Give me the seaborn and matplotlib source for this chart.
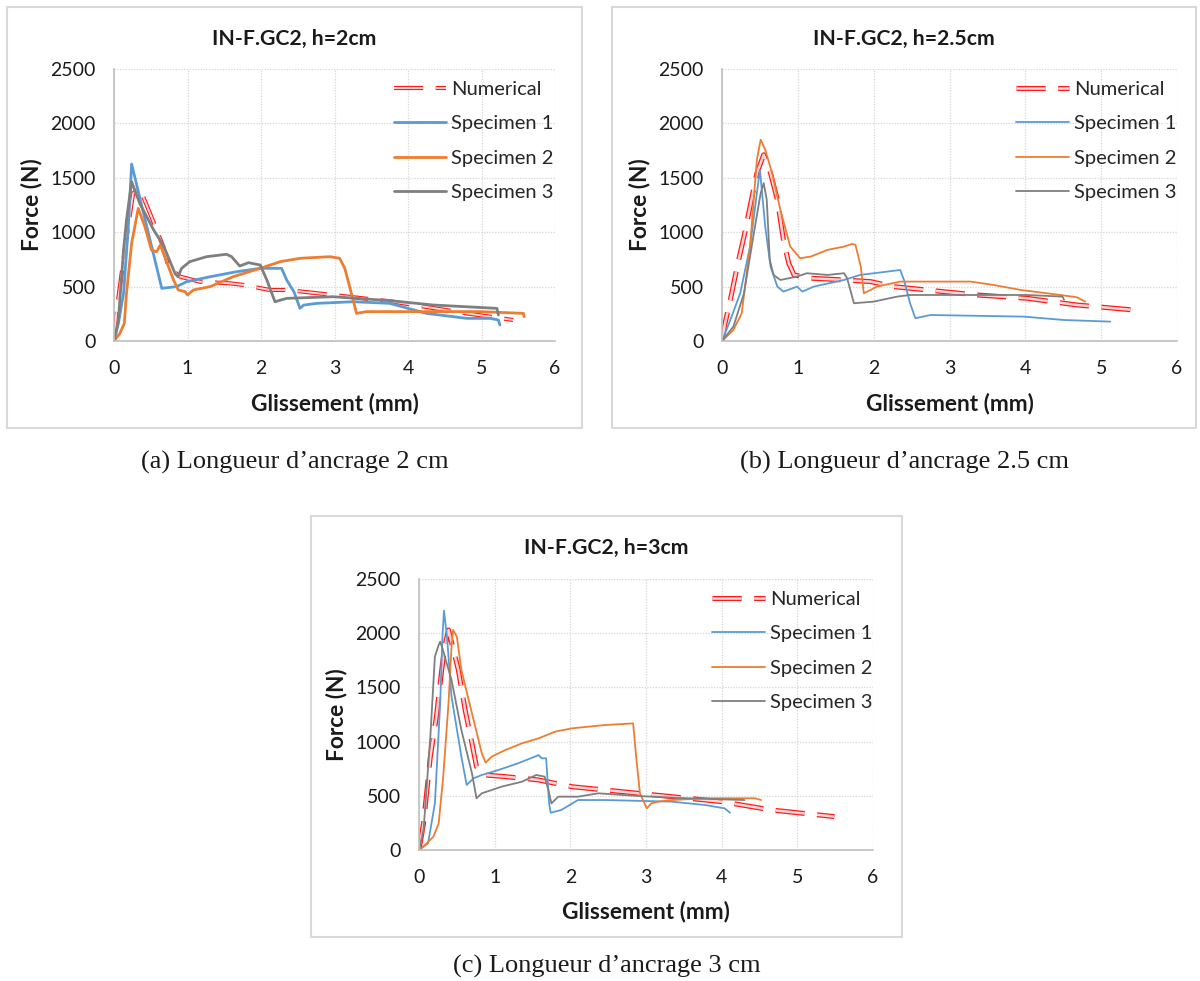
import numpy as np
import pandas as pd
import matplotlib
matplotlib.use("Agg")
import matplotlib.pyplot as plt
import matplotlib.patheffects as pe
from matplotlib.patches import Rectangle
import seaborn as sns

# ---------------- data ----------------
series_names = ["Numerical", "Specimen 1", "Specimen 2", "Specimen 3"]
titles = ["IN-F.GC2, h=2cm", "IN-F.GC2, h=2.5cm", "IN-F.GC2, h=3cm"]
captions = ["(a) Longueur d\u2019ancrage 2 cm", "(b) Longueur d\u2019ancrage 2.5 cm",
            "(c) Longueur d\u2019ancrage 3 cm"]
x_ticks = [0, 1, 2, 3, 4, 5, 6]
y_ticks = [0, 500, 1000, 1500, 2000, 2500]

# panel (a) h=2cm
a_num_x = [0, 0.03, 0.10, 0.18, 0.26, 0.35, 0.49, 0.67, 0.74, 0.90, 1.17, 1.58, 1.76, 2.12, 2.35, 2.98, 3.80, 4.80, 5.43]
a_num_y = [0, 250, 600, 1000, 1357, 1403, 1173, 867, 683, 591, 545, 530, 515, 469, 469, 423, 361, 254, 193]
a_s1_x = [0, 0.06, 0.13, 0.195, 0.24, 0.40, 0.65, 0.85, 0.99, 1.31, 1.67, 1.99, 2.28, 2.35, 2.45, 2.53, 2.58, 2.76, 3.26, 3.75, 4.25, 4.80, 5.12, 5.23, 5.25]
a_s1_y = [0, 162, 438, 1050, 1627, 1180, 484, 500, 545, 591, 637, 668, 668, 560, 450, 300, 330, 346, 361, 346, 254, 208, 208, 193, 147]
a_s2_x = [0, 0.08, 0.14, 0.17, 0.24, 0.33, 0.42, 0.51, 0.58, 0.63, 0.69, 0.81, 0.875, 0.97, 1.0, 1.08, 1.31, 1.62, 1.99, 2.26, 2.53, 2.94, 3.07, 3.14, 3.23, 3.30, 3.44, 4.34, 4.98, 5.57, 5.58]
a_s2_y = [0, 70, 162, 438, 898, 1219, 1050, 836, 820, 882, 775, 560, 469, 453, 423, 469, 500, 591, 668, 729, 760, 775, 760, 668, 438, 254, 270, 270, 270, 254, 224]
a_s3_x = [0, 0.06, 0.13, 0.17, 0.24, 0.35, 0.54, 0.67, 0.83, 0.87, 0.92, 1.03, 1.26, 1.53, 1.60, 1.71, 1.83, 1.99, 2.08, 2.19, 2.35, 2.98, 3.75, 4.34, 5.21, 5.23]
a_s3_y = [0, 193, 836, 1112, 1464, 1265, 1020, 882, 622, 591, 668, 729, 775, 797, 775, 689, 720, 698, 560, 361, 392, 407, 371, 331, 300, 239]

# panel (b) h=2.5cm
b_num_x = [0, 0.04, 0.11, 0.20, 0.29, 0.37, 0.46, 0.55, 0.64, 0.73, 0.81, 0.88, 0.95, 1.17, 1.61, 1.96, 2.26, 2.70, 3.36, 4.02, 4.68, 5.43]
b_num_y = [0, 162, 377, 684, 960, 1236, 1543, 1712, 1543, 1298, 930, 715, 607, 577, 561, 546, 500, 469, 423, 393, 331, 285]
b_s1_x = [0, 0.11, 0.24, 0.37, 0.46, 0.50, 0.57, 0.64, 0.73, 0.81, 0.99, 1.06, 1.21, 1.61, 1.82, 2.18, 2.35, 2.40, 2.48, 2.55, 2.75, 3.98, 4.51, 5.12]
b_s1_y = [0, 193, 439, 868, 1359, 1574, 1052, 684, 500, 454, 500, 454, 500, 561, 607, 638, 653, 561, 347, 209, 239, 224, 193, 178]
b_s2_x = [0, 0.15, 0.26, 0.37, 0.46, 0.51, 0.57, 0.66, 0.77, 0.90, 1.03, 1.17, 1.39, 1.61, 1.72, 1.76, 1.83, 1.87, 1.96, 2.04, 2.35, 3.28, 3.58, 3.94, 4.46, 4.68, 4.79]
b_s2_y = [0, 101, 255, 868, 1666, 1850, 1758, 1543, 1205, 868, 761, 776, 837, 868, 893, 883, 684, 439, 469, 500, 546, 546, 515, 469, 423, 402, 362]
b_s3_x = [0, 0.15, 0.29, 0.42, 0.51, 0.55, 0.59, 0.63, 0.68, 0.77, 0.99, 1.12, 1.39, 1.61, 1.65, 1.74, 2.00, 2.31, 2.48, 3.19, 4.02, 4.49, 4.51]
b_s3_y = [0, 132, 439, 991, 1359, 1451, 1298, 745, 607, 561, 592, 623, 607, 623, 577, 347, 362, 408, 423, 423, 423, 408, 380]

# panel (c) h=3cm
c_num_x = [0, 0.06, 0.15, 0.23, 0.30, 0.34, 0.39, 0.52, 0.61, 0.70, 0.76, 0.87, 1.14, 1.58, 2.02, 2.68, 3.34, 4.00, 4.66, 5.49]
c_num_y = [0, 246, 861, 1230, 1660, 1876, 2030, 1660, 1291, 984, 769, 692, 677, 646, 584, 538, 492, 446, 369, 308]
c_s1_x = [0, 0.12, 0.21, 0.28, 0.31, 0.33, 0.37, 0.43, 0.56, 0.63, 0.72, 0.83, 1.05, 1.31, 1.53, 1.58, 1.62, 1.68, 1.72, 1.74, 1.88, 2.10, 2.46, 3.34, 3.78, 4.04, 4.11]
c_s1_y = [0, 62, 430, 1353, 1968, 2208, 1968, 1414, 861, 600, 661, 692, 738, 800, 861, 876, 846, 846, 430, 344, 369, 461, 461, 446, 415, 384, 344]
c_s2_x = [0, 0.08, 0.19, 0.26, 0.32, 0.39, 0.43, 0.45, 0.50, 0.56, 0.70, 0.83, 0.88, 0.96, 1.14, 1.36, 1.58, 1.80, 2.02, 2.24, 2.46, 2.83, 2.87, 2.92, 3.01, 3.07, 3.16, 3.34, 3.78, 4.44, 4.52]
c_s2_y = [0, 46, 123, 246, 677, 1353, 1876, 2030, 1968, 1660, 1261, 892, 806, 861, 922, 984, 1030, 1092, 1122, 1138, 1153, 1168, 861, 523, 384, 430, 446, 461, 477, 477, 461]
c_s3_x = [0, 0.06, 0.15, 0.21, 0.26, 0.28, 0.31, 0.43, 0.56, 0.70, 0.76, 0.83, 1.09, 1.36, 1.55, 1.66, 1.71, 1.75, 1.84, 2.10, 2.37, 2.90, 3.56, 4.30]
c_s3_y = [0, 185, 1046, 1784, 1891, 1922, 1860, 1568, 1107, 707, 477, 523, 584, 630, 692, 677, 553, 430, 492, 492, 523, 498, 477, 461]

panels_data = [
    [(a_num_x, a_num_y), (a_s1_x, a_s1_y), (a_s2_x, a_s2_y), (a_s3_x, a_s3_y)],
    [(b_num_x, b_num_y), (b_s1_x, b_s1_y), (b_s2_x, b_s2_y), (b_s3_x, b_s3_y)],
    [(c_num_x, c_num_y), (c_s1_x, c_s1_y), (c_s2_x, c_s2_y), (c_s3_x, c_s3_y)],
]

# ---------------- style ----------------
sns.set_theme(style="white")
plt.rcParams["font.family"] = ["Lato", "DejaVu Sans"]
plt.rcParams["lines.scale_dashes"] = False

W, H = 1200, 981
fig = plt.figure(figsize=(W / 100, H / 100), dpi=100)
fig.patch.set_facecolor("white")

def fx(px):
    return px / W

def fy(py):
    return 1 - py / H

# pixel layouts: frame (l, t, r, b), axes (l, t, r, b)
frames = [(7, 7, 582, 428), (612, 7, 1196, 428), (311, 516, 902, 937)]
axes_px = [(114, 69, 555, 341), (722, 69, 1177, 341), (419, 579, 873, 850)]
caption_pos = [(295, 462), (905, 462), (607, 966)]
spec_colors = ["#5B9BD5", "#ED7D31", "#7F7F7F"]
spec_lw = [2.0, 1.3, 1.3]
num_lw = [(3.0, 1.4), (3.6, 1.8), (3.6, 1.8)]

tick_fs = 14
leg_fs = 14.5
for i in range(3):
    fl, ft, fr, fb = frames[i]
    fig.patches.append(Rectangle((fx(fl), fy(fb)), fx(fr - fl), (fb - ft) / H,
                                 transform=fig.transFigure, fill=False,
                                 edgecolor="#d9d9d9", linewidth=1.5, zorder=0))
    al, at, ar, ab = axes_px[i]
    ax = fig.add_axes([fx(al), fy(ab), fx(ar - al), (ab - at) / H])
    ax.set_facecolor("white")

    for j, (xs, ys) in enumerate(panels_data[i]):
        df = pd.DataFrame({"x": xs, "y": ys})
        if j == 0:
            outer, inner = num_lw[i]
            sns.lineplot(data=df, x="x", y="y", sort=False, estimator=None, ax=ax,
                         color="#ffd6d6", linewidth=inner, label=series_names[j])
            ln = ax.get_lines()[-1]
            ln.set_dashes((21, 9))
            ln.set_dash_capstyle("butt")
            ln.set_path_effects([pe.Stroke(linewidth=outer, foreground="#ff1a1a"), pe.Normal()])
        else:
            sns.lineplot(data=df, x="x", y="y", sort=False, estimator=None, ax=ax,
                         color=spec_colors[j - 1], linewidth=spec_lw[i], label=series_names[j])

    ax.set_xlim(0, 6)
    ax.set_ylim(0, 2500)
    ax.set_xticks(x_ticks)
    ax.set_yticks(y_ticks)
    ax.set_xticklabels([str(t) for t in x_ticks])
    ax.set_yticklabels([str(t) for t in y_ticks])
    ax.tick_params(axis="both", length=0, labelsize=tick_fs, colors="#1a1a1a")
    ax.tick_params(axis="x", pad=14)
    ax.tick_params(axis="y", pad=13)
    ax.grid(True, color="#d9d9d9", linestyle=(0, (1, 1)), linewidth=0.9)
    ax.set_axisbelow(True)
    for s in ["top", "right"]:
        ax.spines[s].set_visible(False)
    for s in ["left", "bottom"]:
        ax.spines[s].set_color("#bfbfbf")
        ax.spines[s].set_linewidth(1.2)
    ax.set_xlabel("")
    ax.set_ylabel("")

    leg = ax.legend(loc="upper right", bbox_to_anchor=(1.025, 1.0), frameon=False,
                    fontsize=leg_fs, handlelength=2.6, handletextpad=0.25,
                    labelspacing=0.85, borderaxespad=0.2)

    cx = (fl + fr) / 2
    fig.text(fx(cx), fy(ft + 32), titles[i], ha="center", va="center",
             fontsize=15.3, fontweight="bold", color="#1a1a1a")
    fig.text(fx((al + ar) / 2), fy(ab + 62), "Glissement (mm)", ha="center", va="center",
             fontsize=16.3, fontweight="bold", color="#1a1a1a")
    fig.text(fx(al - 83), fy((at + ab) / 2), "Force (N)", ha="center", va="center",
             rotation=90, fontsize=16.3, fontweight="bold", color="#1a1a1a")
    px_, py_ = caption_pos[i]
    fig.text(fx(px_), fy(py_), captions[i], ha="center", va="center",
             fontsize=19, family=["Liberation Serif", "DejaVu Serif"], color="#1a1a1a")

fig.savefig("out.png", dpi=100, facecolor="white")
